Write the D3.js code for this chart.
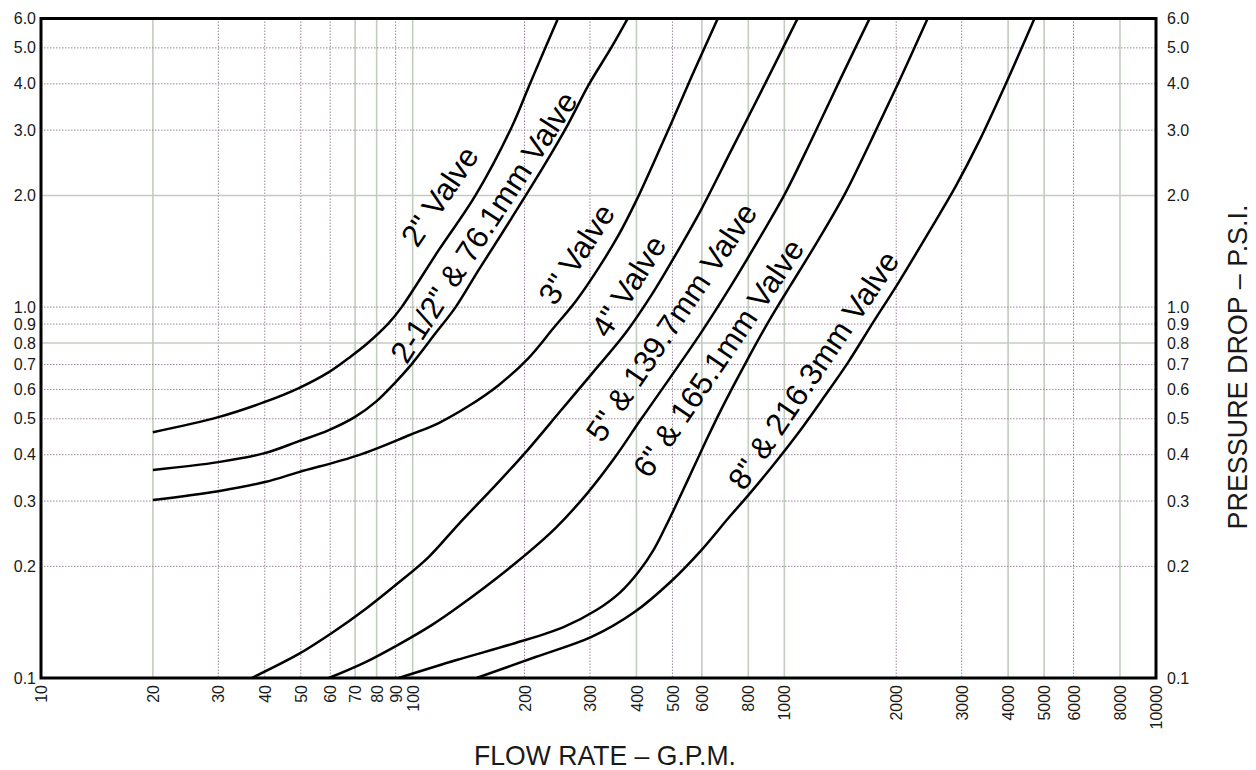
<!DOCTYPE html>
<html>
<head>
<meta charset="utf-8">
<script src="https://cdn.jsdelivr.net/npm/d3@7"></script>
<style>
  body { margin: 0; background: #fff; }
  svg { display: block; font-family: "Liberation Sans", Arial, sans-serif; }
  .tick text { font-size: 16px; fill: #1a1a1a; }
  .titulo { font-size: 28px; fill: #1a1a1a; }
  .valvula { font-size: 31px; fill: #000; }
  .curva { fill: none; stroke: #000; stroke-width: 2.5; stroke-linejoin: round; }
  .rejilla { stroke: #9a889a; stroke-width: 1; stroke-dasharray: 1.5 1.5; }
  .rejilla.suave { stroke: #c3ccc1; stroke-width: 1.6; stroke-dasharray: none; }
</style>
</head>
<body>
<svg width="1256" height="770"></svg>
<script>
(function (d3) {
    'use strict'

    // Ejes: valores de las marcas
    const flujoTicks = [10, 20, 30, 40, 50, 60, 70, 80, 90, 100, 200, 300, 400, 500, 600, 800,
                        1000, 2000, 3000, 4000, 5000, 6000, 8000, 10000];
    const presionTicks = [0.1, 0.2, 0.3, 0.4, 0.5, 0.6, 0.7, 0.8, 0.9, 1.0, 2.0, 3.0, 4.0, 5.0, 6.0];

    // Curvas (G.P.M. , P.S.I.)
    const gpm2 = [20, 30, 40, 49.4, 59.5, 67.3, 75.2, 86.2, 93.4, 117.5, 147.7, 184.6, 205, 227.8, 246.9];
    const psi2 = [0.46, 0.505, 0.555, 0.605, 0.668, 0.729, 0.795, 0.905, 1.0, 1.424, 2.004, 3.056, 3.917, 5.02, 6.05];

    const gpm25 = [20, 30, 40, 49.4, 59.5, 69.8, 80, 90, 99.4, 115.3, 130.5, 150.4, 184.6, 227.8, 262.7, 297.2, 342.8, 380.7];
    const psi25 = [0.364, 0.382, 0.404, 0.435, 0.466, 0.505, 0.558, 0.628, 0.702, 0.851, 1.0, 1.258, 1.738, 2.444, 3.13, 3.966, 5.02, 6.05];

    const gpm3 = [20, 30, 40, 49.4, 71.6, 98.2, 117.5, 141.4, 170.3, 205, 239.3, 276, 316.2, 358, 400.2, 444.5, 493.7, 562.3, 664.6];
    const psi3 = [0.302, 0.319, 0.3375, 0.359, 0.399, 0.452, 0.487, 0.541, 0.616, 0.729, 0.878, 1.044, 1.274, 1.563, 1.943, 2.444, 3.094, 4.17, 6.05];

    const gpm4 = [36.9, 49.4, 60.6, 74.7, 90, 110.4, 133, 168.2, 203.8, 248.5, 302.8, 373.9, 438.9, 509.3, 598.4, 720.3, 889.2, 1090];
    const psi4 = [0.1, 0.1161, 0.1322, 0.1535, 0.1781, 0.2119, 0.2601, 0.3333, 0.4117, 0.5212, 0.6597, 0.851, 1.077, 1.381, 1.838, 2.65, 4.016, 6.05];

    const gpm5 = [59.5, 74.7, 91.1, 112.5, 131.3, 189.2, 242.3, 295.3, 349.1, 410, 487.7, 598.4, 720.3, 851.3, 1006, 1182, 1423, 1703];
    const psi5 = [0.1, 0.1104, 0.1227, 0.1389, 0.1544, 0.2042, 0.2536, 0.3152, 0.3917, 0.4959, 0.6356, 0.856, 1.146, 1.516, 2.029, 2.819, 4.17, 6.05];

    const gpm6 = [91.7, 131.3, 189.2, 254.6, 312.3, 362.4, 405, 444.5, 478.7, 518.9, 565.8, 616.9, 672.9, 738.4, 810.3, 889.2, 963.7, 1044, 1234, 1459, 1713, 2025, 2439];
    const psi6 = [0.1, 0.1118, 0.1243, 0.1372, 0.1525, 0.1705, 0.1931, 0.2213, 0.2553, 0.3018, 0.3636, 0.4381, 0.5244, 0.628, 0.747, 0.8834, 1.0125, 1.153, 1.516, 2.029, 2.819, 4.016, 6.05];

    const gpm8 = [148.6, 214.1, 302.8, 395.3, 493.7, 598.4, 707.3, 800.4, 934.1, 1090, 1273, 1486, 1735, 2025, 2439, 2883, 3323, 3928, 4727];
    const psi8 = [0.1, 0.1139, 0.129, 0.1506, 0.1815, 0.2213, 0.27, 0.3113, 0.3751, 0.4575, 0.5685, 0.7109, 0.9111, 1.161, 1.583, 2.106, 2.767, 3.966, 6.05];

    // Nombres de las válvulas y dónde va cada rótulo (gpm, psi)
    const nombres = ['2" Valve', '2-1/2" & 76.1mm Valve', '3" Valve', '4" Valve',
                     '5" & 139.7mm Valve', '6" & 165.1mm Valve', '8" & 216.3mm Valve'];
    const rotuloGpm = [118.2, 155.2, 276, 380.7, 496.8, 664.6, 1197];
    const rotuloPsi = [1.991, 1.643, 1.39, 1.139, 0.911, 0.729, 0.676];

    const curvas = [[gpm2, psi2], [gpm25, psi25], [gpm3, psi3], [gpm4, psi4],
                    [gpm5, psi5], [gpm6, psi6], [gpm8, psi8]]
        .map(([g, p]) => g.map((v, i) => ({ gpm: v, psi: p[i] })));

    const svg = d3.select('svg');
    const ancho = +svg.attr('width');
    const altura = +svg.attr('height');
    const margin = { top: 18.5, right: 100, bottom: 92, left: 41 };
    const anchoInterno = ancho - margin.left - margin.right;
    const alturaInterna = altura - margin.top - margin.bottom;

    const xScale = d3.scaleLog().domain([10, 10000]).range([0, anchoInterno]);
    const yScale = d3.scaleLog().domain([0.1, 6]).range([alturaInterna, 0]);

    const grupo = svg.append('g')
        .attr('transform', `translate(${margin.left}, ${margin.top})`);

    grupo.append('defs').append('clipPath').attr('id', 'recorte')
        .append('rect').attr('width', anchoInterno).attr('height', alturaInterna);

    // rejilla (algunas líneas salen más claras en el original)
    const suavesX = [20, 70, 80, 100, 400, 600, 800, 1000, 4000, 5000, 8000];
    const suavesY = [0.8, 2.0];
    grupo.append('g').selectAll('line').data(flujoTicks.slice(1, -1))
        .enter().append('line')
        .attr('class', d => suavesX.includes(d) ? 'rejilla suave' : 'rejilla')
        .attr('x1', d => xScale(d)).attr('x2', d => xScale(d))
        .attr('y1', 0).attr('y2', alturaInterna);
    grupo.append('g').selectAll('line').data(presionTicks.slice(1, -1))
        .enter().append('line')
        .attr('class', d => suavesY.includes(d) ? 'rejilla suave' : 'rejilla')
        .attr('y1', d => yScale(d)).attr('y2', d => yScale(d))
        .attr('x1', 0).attr('x2', anchoInterno);

    // curvas
    const linea = d3.line()
        .x(d => xScale(d.gpm))
        .y(d => yScale(d.psi))
        .curve(d3.curveCatmullRom.alpha(0.5));
    grupo.append('g').attr('clip-path', 'url(#recorte)')
        .selectAll('path').data(curvas)
        .enter().append('path')
        .attr('class', 'curva')
        .attr('d', linea);

    // rótulos inclinados sobre cada curva
    const angulos = [-56, -57, -57, -58, -56, -56, -56];
    grupo.selectAll('.valvula').data(nombres)
        .enter().append('text')
        .attr('class', 'valvula')
        .attr('transform', (d, i) =>
            `translate(${xScale(rotuloGpm[i])}, ${yScale(rotuloPsi[i])}) rotate(${angulos[i]})`)
        .attr('text-anchor', 'middle')
        .attr('dy', '0.35em')
        .text(d => d);

    // marco
    grupo.append('rect')
        .attr('width', anchoInterno).attr('height', alturaInterna)
        .attr('fill', 'none').attr('stroke', '#000').attr('stroke-width', 3);

    // escalas
    const formatoY = d3.format('.1f');
    const ejeIzq = grupo.append('g')
        .call(d3.axisLeft(yScale).tickValues(presionTicks).tickFormat(formatoY).tickSize(0).tickPadding(5));
    const ejeDer = grupo.append('g')
        .attr('transform', `translate(${anchoInterno}, 0)`)
        .call(d3.axisRight(yScale).tickValues(presionTicks).tickFormat(formatoY).tickSize(0).tickPadding(11));
    const ejeX = grupo.append('g')
        .attr('transform', `translate(0, ${alturaInterna})`)
        .call(d3.axisBottom(xScale).tickValues(flujoTicks).tickFormat(d3.format('d')).tickSize(0));
    ejeX.selectAll('text')
        .attr('x', -7).attr('y', 0).attr('dy', '0.35em')
        .attr('transform', 'rotate(-90)')
        .style('text-anchor', 'end');
    [ejeIzq, ejeDer, ejeX].forEach(e => {
        e.select('.domain').remove();
        e.attr('font-family', null).attr('font-size', null);
    });

    // títulos
    svg.append('text')
        .attr('class', 'titulo')
        .attr('x', 605).attr('y', 765)
        .attr('text-anchor', 'middle')
        .attr('textLength', 262).attr('lengthAdjust', 'spacingAndGlyphs')
        .text('FLOW RATE – G.P.M.');
    svg.append('text')
        .attr('class', 'titulo')
        .attr('transform', 'translate(1247, 367) rotate(-90)')
        .attr('text-anchor', 'middle')
        .attr('textLength', 325).attr('lengthAdjust', 'spacingAndGlyphs')
        .text('PRESSURE DROP – P.S.I.');

}(d3));
</script>
</body>
</html>
